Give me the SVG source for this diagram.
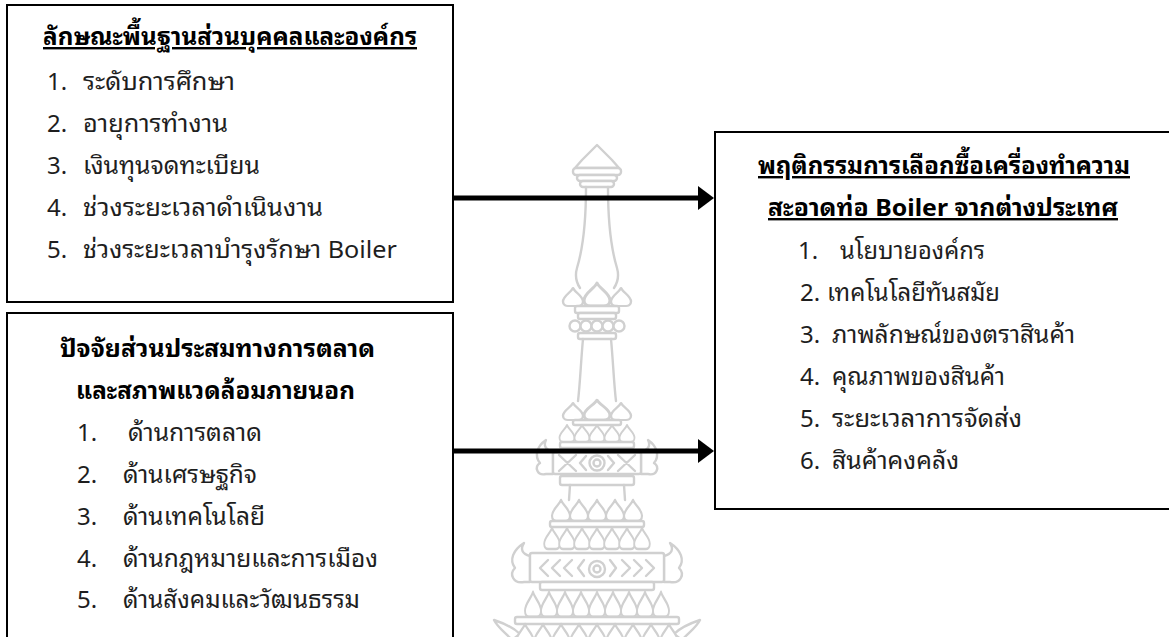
<svg xmlns="http://www.w3.org/2000/svg" xmlns:xlink="http://www.w3.org/1999/xlink" width="1169" height="637" viewBox="0 0 1169 637">
  <style>
    .box { fill: none; stroke: #000; stroke-width: 2; }
    .t { font-family: "Leelawadee UI", "Noto Sans Thai Looped", "Noto Sans Thai", Tahoma, "DejaVu Sans", sans-serif; font-size: 24px; fill: #1e1e1e; }
    .h { font-weight: bold; fill: #000; }
    .u { text-decoration: underline; }
    .wm { fill: #fff; stroke: #d0d0d0; stroke-width: 2.4; stroke-linejoin: round; stroke-linecap: round; }
    .wmp { fill: #fff; stroke: #d0d0d0; stroke-width: 2.4; stroke-linejoin: round; }
    .conn { stroke: #000; stroke-width: 5; fill: none; }
    .head { fill: #000; }
  </style>
  <defs>
    <!-- onion-dome petal, base on y=0, 20 wide, 20 tall -->
    <path id="petal" d="M0,-20 C2,-15 10,-11 10,-5 C10,-1 7,0 5,0 L-5,0 C-7,0 -10,-1 -10,-5 C-10,-11 -2,-15 0,-20 Z"/>
  </defs>

  <rect width="1169" height="637" fill="#fff"/>

  <!-- faint tiered spire emblem in the background -->
  <g id="emblem" class="wm">
    <!-- finial -->
    <path d="M597,145 L612,160 L619,168 L575,168 L582,160 Z"/>
    <rect x="573" y="168" width="48" height="7" rx="3"/>
    <rect x="577" y="175" width="40" height="6" rx="3"/>
    <rect x="580" y="181" width="34" height="6" rx="3"/>
    <!-- neck -->
    <path d="M586,187 C586,215 584,245 577,268 C575,275 576,282 580,288" fill="none"/>
    <path d="M608,187 C608,215 610,245 617,268 C619,275 618,282 614,288" fill="none"/>
    <!-- first lotus crown -->
    <g class="wmp">
      <use xlink:href="#petal" transform="translate(573,306) scale(1,0.9)" vector-effect="non-scaling-stroke"/>
      <use xlink:href="#petal" transform="translate(621,306) scale(1,0.9)" vector-effect="non-scaling-stroke"/>
      <use xlink:href="#petal" transform="translate(597,306) scale(1.3,1.15)" vector-effect="non-scaling-stroke"/>
    </g>
    <rect x="575" y="306" width="44" height="7" rx="2"/>
    <rect x="578" y="313" width="38" height="6" rx="2"/>
    <circle cx="575" cy="326" r="5.5"/>
    <circle cx="586" cy="326" r="5.5"/>
    <circle cx="597" cy="326" r="5.5"/>
    <circle cx="608" cy="326" r="5.5"/>
    <circle cx="619" cy="326" r="5.5"/>
    <rect x="578" y="333" width="38" height="6" rx="2"/>
    <!-- shaft -->
    <path d="M583,339 C581,360 580,385 578,401" fill="none"/>
    <path d="M611,339 C613,360 614,385 616,401" fill="none"/>
    <!-- second lotus crown -->
    <g class="wmp">
      <use xlink:href="#petal" transform="translate(573,420) scale(1,0.85)" vector-effect="non-scaling-stroke"/>
      <use xlink:href="#petal" transform="translate(621,420) scale(1,0.85)" vector-effect="non-scaling-stroke"/>
      <use xlink:href="#petal" transform="translate(597,420) scale(1.3,1)" vector-effect="non-scaling-stroke"/>
    </g>
    <rect x="573" y="420" width="48" height="5" rx="2"/>
    <g class="wmp">
      <use xlink:href="#petal" transform="translate(567,442) scale(0.75,0.85)" vector-effect="non-scaling-stroke"/>
      <use xlink:href="#petal" transform="translate(582,442) scale(0.75,0.85)" vector-effect="non-scaling-stroke"/>
      <use xlink:href="#petal" transform="translate(597,442) scale(0.75,0.85)" vector-effect="non-scaling-stroke"/>
      <use xlink:href="#petal" transform="translate(612,442) scale(0.75,0.85)" vector-effect="non-scaling-stroke"/>
      <use xlink:href="#petal" transform="translate(627,442) scale(0.75,0.85)" vector-effect="non-scaling-stroke"/>
    </g>
    <rect x="560" y="442" width="74" height="6" rx="2"/>
    <!-- first winged band -->
    <path d="M553,452 C546,450 543,446 546,440 C537,446 534,456 540,463 C534,467 537,476 546,474 L553,474 Z"/>
    <path d="M641,452 C648,450 651,446 648,440 C657,446 660,456 654,463 C660,467 657,476 648,474 L641,474 Z"/>
    <rect x="553" y="452" width="88" height="22" rx="2"/>
    <path d="M559,455 L576,471 M559,471 L576,455 M618,455 L635,471 M618,471 L635,455" fill="none"/>
    <path d="M580,463 L586,456 M580,463 L586,470 M614,463 L608,456 M614,463 L608,470" fill="none"/>
    <circle cx="597" cy="463" r="7.5"/>
    <circle cx="597" cy="463" r="3.5"/>
    <rect x="560" y="476" width="74" height="9" rx="2"/>
    <path d="M570,485 L569,500 M624,485 L625,500" fill="none"/>
    <!-- middle tiers -->
    <g class="wmp">
      <use xlink:href="#petal" transform="translate(561,521) scale(0.9,1.05)" vector-effect="non-scaling-stroke"/>
      <use xlink:href="#petal" transform="translate(579,521) scale(0.9,1.05)" vector-effect="non-scaling-stroke"/>
      <use xlink:href="#petal" transform="translate(597,521) scale(0.9,1.05)" vector-effect="non-scaling-stroke"/>
      <use xlink:href="#petal" transform="translate(615,521) scale(0.9,1.05)" vector-effect="non-scaling-stroke"/>
      <use xlink:href="#petal" transform="translate(633,521) scale(0.9,1.05)" vector-effect="non-scaling-stroke"/>
    </g>
    <rect x="550" y="521" width="94" height="6" rx="2"/>
    <g class="wmp">
      <use xlink:href="#petal" transform="translate(552,549) scale(0.78,1.05)" vector-effect="non-scaling-stroke"/>
      <use xlink:href="#petal" transform="translate(567,549) scale(0.78,1.05)" vector-effect="non-scaling-stroke"/>
      <use xlink:href="#petal" transform="translate(582,549) scale(0.78,1.05)" vector-effect="non-scaling-stroke"/>
      <use xlink:href="#petal" transform="translate(597,549) scale(0.78,1.05)" vector-effect="non-scaling-stroke"/>
      <use xlink:href="#petal" transform="translate(612,549) scale(0.78,1.05)" vector-effect="non-scaling-stroke"/>
      <use xlink:href="#petal" transform="translate(627,549) scale(0.78,1.05)" vector-effect="non-scaling-stroke"/>
      <use xlink:href="#petal" transform="translate(642,549) scale(0.78,1.05)" vector-effect="non-scaling-stroke"/>
    </g>
    <!-- second winged band -->
    <path d="M530,556 C522,554 520,549 524,543 C513,550 509,560 515,568 C509,574 513,584 524,582 L530,582 Z"/>
    <path d="M664,556 C672,554 674,549 670,543 C681,550 685,560 679,568 C685,574 681,584 670,582 L664,582 Z"/>
    <rect x="530" y="553" width="134" height="29" rx="2"/>
    <path d="M548,560 L540,568 L548,576 M560,560 L552,568 L560,576 M572,560 L564,568 L572,576 M584,560 L578,568 L584,576" fill="none"/>
    <path d="M646,560 L654,568 L646,576 M634,560 L642,568 L634,576 M622,560 L630,568 L622,576 M610,560 L616,568 L610,576" fill="none"/>
    <circle cx="597" cy="569" r="8"/>
    <circle cx="597" cy="569" r="3.5"/>
    <rect x="540" y="582" width="114" height="8" rx="2"/>
    <g class="wmp">
      <use xlink:href="#petal" transform="translate(533,617) scale(0.8,1.25)" vector-effect="non-scaling-stroke"/>
      <use xlink:href="#petal" transform="translate(549,617) scale(0.8,1.25)" vector-effect="non-scaling-stroke"/>
      <use xlink:href="#petal" transform="translate(565,617) scale(0.8,1.25)" vector-effect="non-scaling-stroke"/>
      <use xlink:href="#petal" transform="translate(581,617) scale(0.8,1.25)" vector-effect="non-scaling-stroke"/>
      <use xlink:href="#petal" transform="translate(597,617) scale(0.8,1.25)" vector-effect="non-scaling-stroke"/>
      <use xlink:href="#petal" transform="translate(613,617) scale(0.8,1.25)" vector-effect="non-scaling-stroke"/>
      <use xlink:href="#petal" transform="translate(629,617) scale(0.8,1.25)" vector-effect="non-scaling-stroke"/>
      <use xlink:href="#petal" transform="translate(645,617) scale(0.8,1.25)" vector-effect="non-scaling-stroke"/>
      <use xlink:href="#petal" transform="translate(661,617) scale(0.8,1.25)" vector-effect="non-scaling-stroke"/>
    </g>
    <rect x="515" y="617" width="164" height="7" rx="2"/>
    <!-- base tier, running off the page -->
    <path d="M512,640 C505,632 498,628 494,620 C506,624 514,628 520,634 Z"/>
    <path d="M682,640 C689,632 696,628 700,620 C688,624 680,628 674,634 Z"/>
    <g class="wmp">
      <use xlink:href="#petal" transform="translate(525,646) scale(0.85,1.1)" vector-effect="non-scaling-stroke"/>
      <use xlink:href="#petal" transform="translate(543,646) scale(0.85,1.1)" vector-effect="non-scaling-stroke"/>
      <use xlink:href="#petal" transform="translate(561,646) scale(0.85,1.1)" vector-effect="non-scaling-stroke"/>
      <use xlink:href="#petal" transform="translate(579,646) scale(0.85,1.1)" vector-effect="non-scaling-stroke"/>
      <use xlink:href="#petal" transform="translate(597,646) scale(0.85,1.1)" vector-effect="non-scaling-stroke"/>
      <use xlink:href="#petal" transform="translate(615,646) scale(0.85,1.1)" vector-effect="non-scaling-stroke"/>
      <use xlink:href="#petal" transform="translate(633,646) scale(0.85,1.1)" vector-effect="non-scaling-stroke"/>
      <use xlink:href="#petal" transform="translate(651,646) scale(0.85,1.1)" vector-effect="non-scaling-stroke"/>
      <use xlink:href="#petal" transform="translate(669,646) scale(0.85,1.1)" vector-effect="non-scaling-stroke"/>
    </g>
  </g>

  <!-- personal and organisational background -->
  <g id="node-background">
    <rect class="box" x="7" y="5" width="446" height="297"/>
    <text class="t h u" x="43" y="45" textLength="374" lengthAdjust="spacingAndGlyphs">ลักษณะพื้นฐานส่วนบุคคลและองค์กร</text>
    <text class="t" x="47" y="90">1.</text>
    <text class="t" x="83" y="90" textLength="152" lengthAdjust="spacingAndGlyphs">ระดับการศึกษา</text>
    <text class="t" x="47" y="132">2.</text>
    <text class="t" x="83" y="132" textLength="145" lengthAdjust="spacingAndGlyphs">อายุการทำงาน</text>
    <text class="t" x="47" y="174">3.</text>
    <text class="t" x="83" y="174" textLength="177" lengthAdjust="spacingAndGlyphs">เงินทุนจดทะเบียน</text>
    <text class="t" x="47" y="216">4.</text>
    <text class="t" x="83" y="216" textLength="240" lengthAdjust="spacingAndGlyphs">ช่วงระยะเวลาดำเนินงาน</text>
    <text class="t" x="47" y="258">5.</text>
    <text class="t" x="83" y="258" textLength="314" lengthAdjust="spacingAndGlyphs">ช่วงระยะเวลาบำรุงรักษา Boiler</text>
  </g>

  <!-- marketing mix and external environment -->
  <g id="node-factors">
    <rect class="box" x="7" y="313" width="446" height="400"/>
    <text class="t h" x="60" y="357" textLength="315" lengthAdjust="spacingAndGlyphs">ปัจจัยส่วนประสมทางการตลาด</text>
    <text class="t h" x="76" y="399" textLength="279" lengthAdjust="spacingAndGlyphs">และสภาพแวดล้อมภายนอก</text>
    <text class="t" x="77" y="441">1.</text>
    <text class="t" x="128" y="441" textLength="134" lengthAdjust="spacingAndGlyphs">ด้านการตลาด</text>
    <text class="t" x="77" y="483">2.</text>
    <text class="t" x="123" y="483" textLength="134" lengthAdjust="spacingAndGlyphs">ด้านเศรษฐกิจ</text>
    <text class="t" x="77" y="525">3.</text>
    <text class="t" x="123" y="525" textLength="142" lengthAdjust="spacingAndGlyphs">ด้านเทคโนโลยี</text>
    <text class="t" x="77" y="567">4.</text>
    <text class="t" x="123" y="567" textLength="255" lengthAdjust="spacingAndGlyphs">ด้านกฎหมายและการเมือง</text>
    <text class="t" x="77" y="608">5.</text>
    <text class="t" x="123" y="608" textLength="237" lengthAdjust="spacingAndGlyphs">ด้านสังคมและวัฒนธรรม</text>
  </g>

  <!-- purchasing behaviour -->
  <g id="node-behaviour">
    <rect class="box" x="715" y="132" width="500" height="377"/>
    <text class="t h u" x="758" y="174" textLength="372" lengthAdjust="spacingAndGlyphs">พฤติกรรมการเลือกซื้อเครื่องทำความ</text>
    <text class="t h u" x="768" y="216" textLength="350" lengthAdjust="spacingAndGlyphs">สะอาดท่อ Boiler จากต่างประเทศ</text>
    <text class="t" x="798" y="259">1.</text>
    <text class="t" x="840" y="259" textLength="145" lengthAdjust="spacingAndGlyphs">นโยบายองค์กร</text>
    <text class="t" x="800" y="301">2.</text>
    <text class="t" x="827" y="301" textLength="173" lengthAdjust="spacingAndGlyphs">เทคโนโลยีทันสมัย</text>
    <text class="t" x="800" y="343">3.</text>
    <text class="t" x="832" y="343" textLength="243" lengthAdjust="spacingAndGlyphs">ภาพลักษณ์ของตราสินค้า</text>
    <text class="t" x="800" y="385">4.</text>
    <text class="t" x="832" y="385" textLength="173" lengthAdjust="spacingAndGlyphs">คุณภาพของสินค้า</text>
    <text class="t" x="800" y="427">5.</text>
    <text class="t" x="832" y="427" textLength="190" lengthAdjust="spacingAndGlyphs">ระยะเวลาการจัดส่ง</text>
    <text class="t" x="800" y="469">6.</text>
    <text class="t" x="832" y="469" textLength="127" lengthAdjust="spacingAndGlyphs">สินค้าคงคลัง</text>
  </g>

  <!-- connectors -->
  <g id="connectors">
    <line class="conn" x1="453" y1="198" x2="700" y2="198"/>
    <polygon class="head" points="698,186 714,198 698,210"/>
    <line class="conn" x1="453" y1="451" x2="700" y2="451"/>
    <polygon class="head" points="698,439 714,451 698,463"/>
  </g>
</svg>
